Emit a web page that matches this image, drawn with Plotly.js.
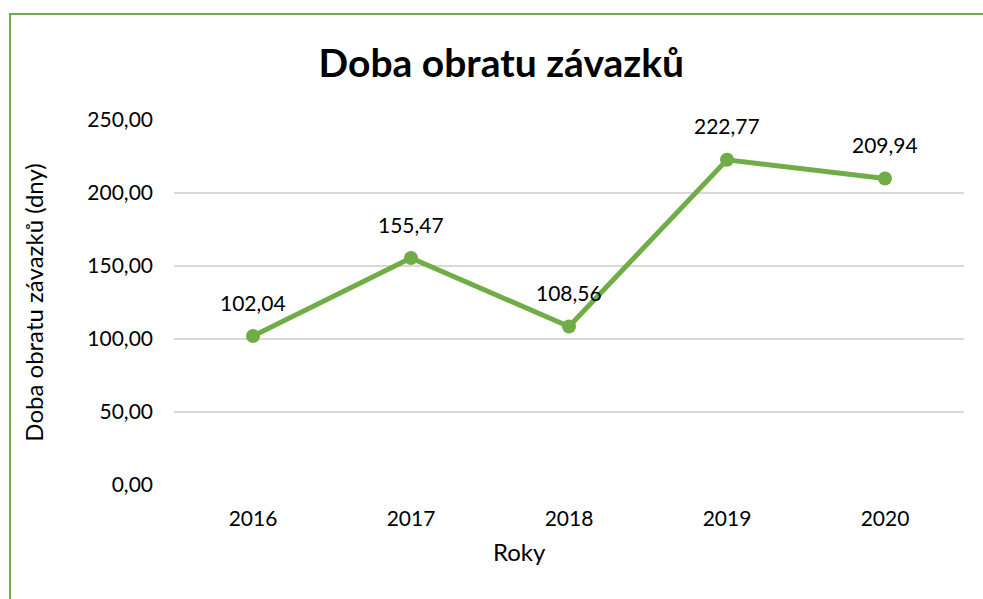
<!DOCTYPE html>
<html><head><meta charset="utf-8">
<script src="https://cdn.plot.ly/plotly-3.0.1.min.js"></script>
<style>
html,body{margin:0;padding:0;background:#fff;overflow:hidden}
#frame{position:absolute;left:9px;top:13px;width:1000px;height:700px;border-top:2px solid #70AD47;border-left:2px solid #70AD47;pointer-events:none;z-index:10}
#chart{width:983px;height:599px}
</style></head>
<body>
<div id="frame"></div>
<div id="chart"></div>
<script>
const years = ['2016','2017','2018','2019','2020'];
const values = [102.04, 155.47, 108.56, 222.77, 209.94];
const yTicks = [0, 50, 100, 150, 200, 250];

const font = 'Lato, "Open Sans", sans-serif';
const trace = {
  x: years, y: values, type: 'scatter', mode: 'lines+markers',
  line: {color: '#70AD47', width: 5},
  marker: {color: '#70AD47', size: 14},
  cliponaxis: false, hoverinfo: 'skip'
};
const annotations = years.map((yr, i) => ({
  x: i, y: values[i], xref: 'x', yref: 'y',
  text: values[i].toFixed(2).replace('.', ','),
  showarrow: false, yshift: 34, yanchor: 'middle', xanchor: 'center',
  font: {family: font, size: 21, color: '#000'}
}));
annotations.push({
  text: 'Roky', xref: 'paper', yref: 'paper', x: 0.437, y: -0.182,
  xanchor: 'center', yanchor: 'middle', showarrow: false,
  font: {family: font, size: 24, color: '#000'}
});
const layout = {
  width: 983, height: 599,
  margin: {l: 174, r: 19, t: 120, b: 114},
  separators: ', ',
  paper_bgcolor: '#fff', plot_bgcolor: '#fff',
  showlegend: false,
  annotations: annotations,
  title: {text: '<b>Doba obratu závazků</b>', x: 0.51, xanchor: 'center', y: 0.895, yanchor: 'middle',
          font: {family: font, size: 39, color: '#000'}},
  xaxis: {type: 'category', range: [-0.5, 4.5], showgrid: false, zeroline: false, showline: false,
          ticks: '', ticklabelstandoff: 19, tickfont: {family: font, size: 21, color: '#000'}},
  yaxis: {range: [0, 250], tickvals: yTicks, tickformat: '.2f', showgrid: true, gridcolor: '#d9d9d9', gridwidth: 1.5,
          zeroline: false, showline: false, ticks: '', ticklabelstandoff: 20,
          tickfont: {family: font, size: 21, color: '#000'},
          title: {text: 'Doba obratu závazků (dny)', font: {family: font, size: 24, color: '#000'}, standoff: 36}}
};
Plotly.newPlot('chart', [trace], layout, {staticPlot: true});
</script>
</body></html>
